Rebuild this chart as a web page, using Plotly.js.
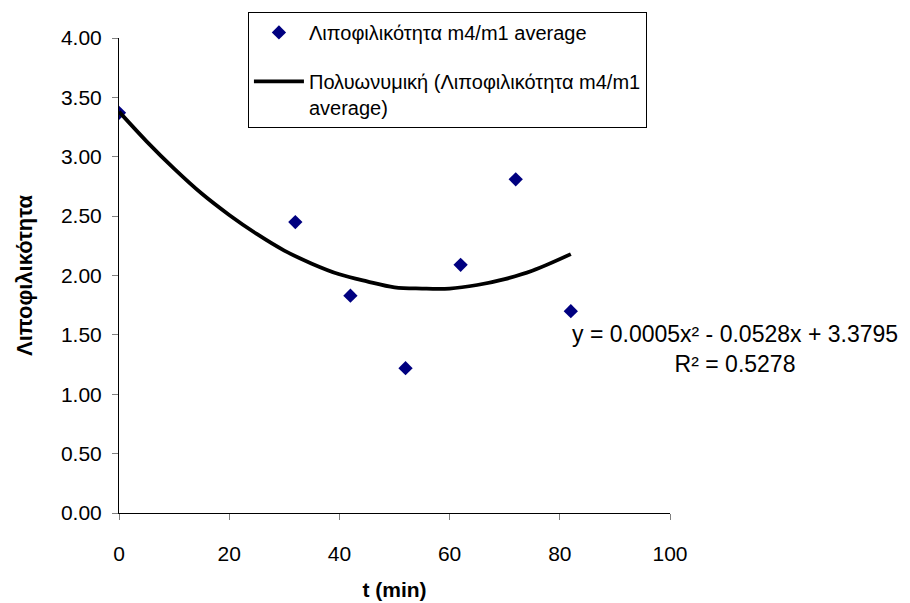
<!DOCTYPE html>
<html>
<head>
<meta charset="utf-8">
<script src="https://cdn.plot.ly/plotly-3.0.1.min.js"></script>
<style>html,body{margin:0;padding:0;background:#fff}#chart{width:910px;height:603px}</style>
</head>
<body>
<div id="chart"></div>
<script>
// Measured data
const tMin = [0, 32, 42, 52, 62, 72, 82];
const lipo = [3.37, 2.45, 1.83, 1.22, 2.09, 2.81, 1.70];

// Trendline
const trendT = [0, 5, 10, 15, 20, 25, 30, 35, 40, 45, 50, 55, 60, 65, 70, 75, 82];
const trendY = [3.38, 3.13, 2.90, 2.69, 2.51, 2.35, 2.21, 2.10, 2.01, 1.95, 1.90, 1.89, 1.89, 1.92, 1.97, 2.04, 2.18];

const xTicks = [0, 20, 40, 60, 80, 100];
const yTicks = [0, 0.5, 1, 1.5, 2, 2.5, 3, 3.5, 4];

const seriesName = 'Λιποφιλικότητα m4/m1 average';
const trendName = 'Πολυωνυμική (Λιποφιλικότητα m4/m1<br>average)';
const eqText = 'y = 0.0005x² - 0.0528x + 3.3795<br>R² = 0.5278';

const font = 'Arial, "Liberation Sans", sans-serif';

const traces = [
  {
    x: tMin, y: lipo, type: 'scatter', mode: 'markers', name: seriesName,
    legendgroup: 'a',
    marker: {symbol: 'diamond', color: '#000080', size: 11}
  },
  {
    x: trendT, y: trendY, type: 'scatter', mode: 'lines', name: trendName,
    legendgroup: 'b',
    line: {color: '#000000', width: 3.8, shape: 'spline'}
  }
];

const layout = {
  width: 910, height: 603,
  margin: {l: 119, r: 240, t: 36, b: 90},
  paper_bgcolor: '#ffffff', plot_bgcolor: '#ffffff',
  font: {family: font, color: '#000', size: 21},
  showlegend: true,
  legend: {
    x: 0.234, y: 1.055, xanchor: 'left', yanchor: 'top',
    bordercolor: '#000', borderwidth: 1, bgcolor: '#ffffff',
    font: {family: font, size: 20, color: '#000'},
    traceorder: 'grouped', tracegroupgap: 20, valign: 'top',
    itemwidth: 50
  },
  xaxis: {
    range: [0, 100], tickvals: xTicks, ticktext: xTicks.map(String),
    showgrid: false, zeroline: false, showline: true, linecolor: '#000', linewidth: 1,
    ticks: 'outside', ticklen: 6, tickcolor: '#808080', ticklabelstandoff: 16,
    tickfont: {size: 21},
    title: {text: '<b>t (min)</b>', font: {size: 21}, standoff: 18}
  },
  yaxis: {
    range: [0, 4], tickvals: yTicks, ticktext: yTicks.map(v => v.toFixed(2)),
    showgrid: false, zeroline: false, showline: true, linecolor: '#000', linewidth: 1,
    ticks: 'outside', ticklen: 6, tickcolor: '#808080', ticklabelstandoff: 6,
    tickfont: {size: 21},
    title: {text: '<b>Λιποφιλικότητα</b>', font: {size: 22}, standoff: 22}
  },
  annotations: [{
    xref: 'paper', yref: 'paper', x: 1.118, y: 0.345,
    xanchor: 'center', yanchor: 'middle', align: 'center',
    text: eqText, showarrow: false, font: {size: 23, color: '#000'}
  }]
};

Plotly.newPlot('chart', traces, layout, {displayModeBar: false, responsive: false});
</script>
</body>
</html>
